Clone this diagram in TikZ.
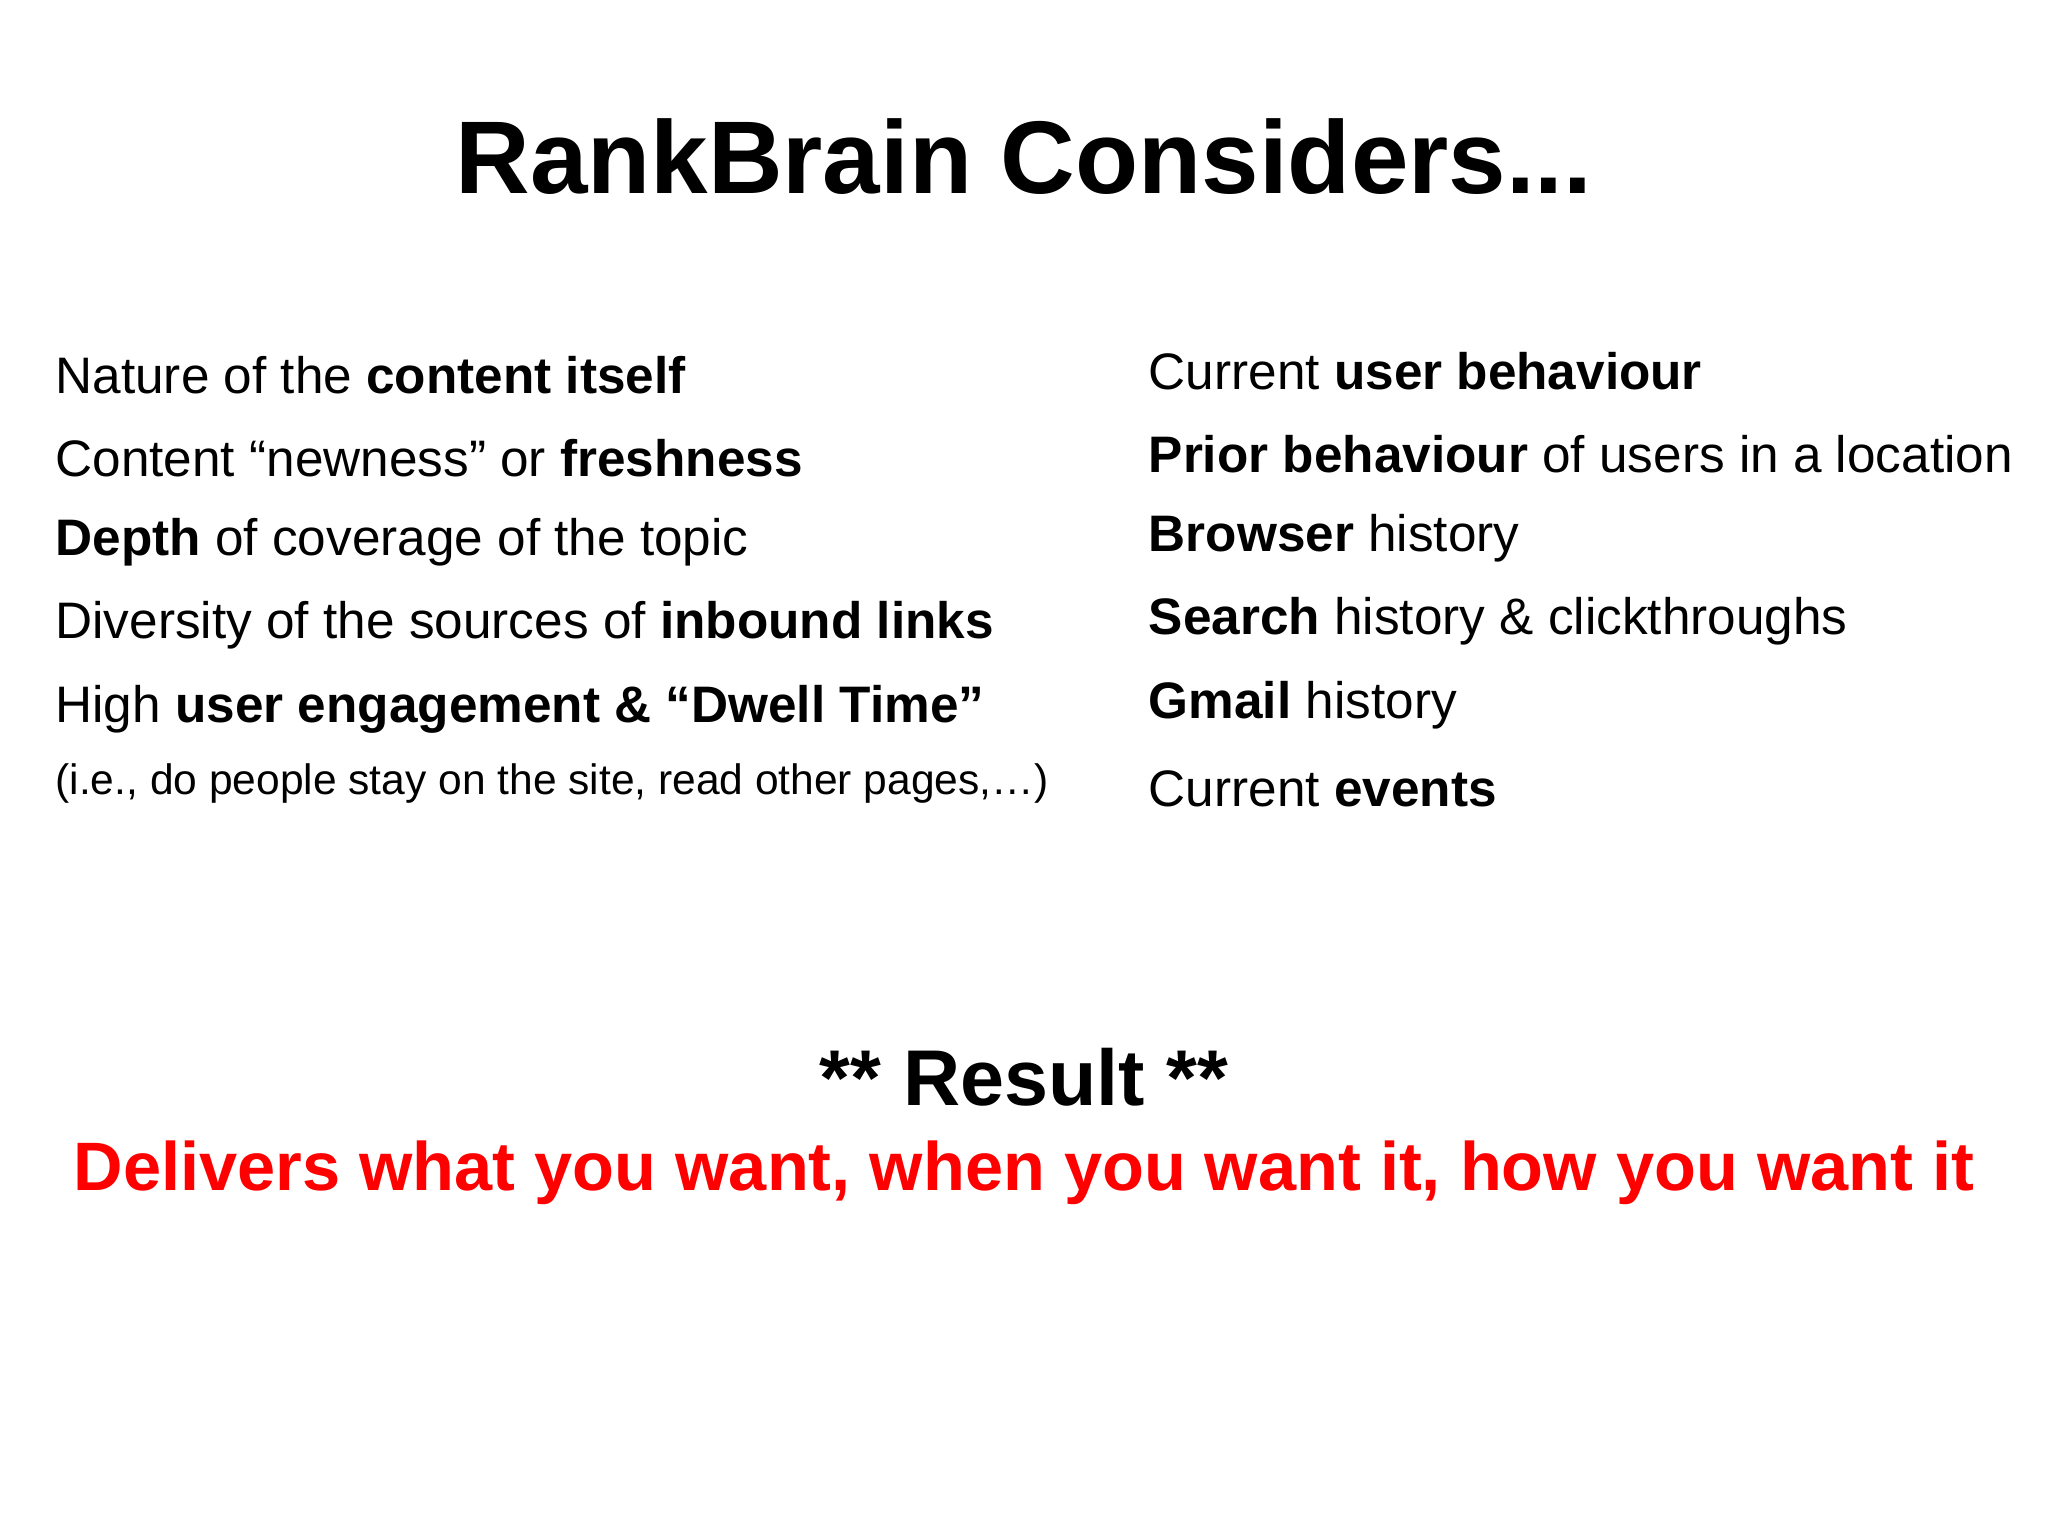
\documentclass[tikz,border=0pt]{standalone}
\usepackage{fontspec}
\setmainfont{Liberation Sans}
\begin{document}
\begin{tikzpicture}[x=0.01306cm,y=-0.01306cm,
  item/.style={anchor=west,inner sep=0pt,font=\fontsize{14.6}{18}\selectfont},
  small/.style={anchor=west,inner sep=0pt,font=\fontsize{12.1}{15}\selectfont}]
\useasboundingbox (0,0) rectangle (1568,1176);
\node[inner sep=0pt,font=\fontsize{29.4}{36}\selectfont\bfseries] (title) at (784,120) {RankBrain Considers...};
\node[item] (l1) at (42,287) {Nature of the \textbf{content itself}};
\node[item] (l2) at (42,351) {Content “newness” or \textbf{freshness}};
\node[item] (l3) at (42,415) {\textbf{Depth} of coverage of the topic};
\node[item] (l4) at (42,479) {Diversity of the sources of \textbf{inbound links}};
\node[item] (l5) at (42,543) {High \textbf{user engagement \& “Dwell Time”}};
\node[small] (l6) at (42,600) {(i.e., do people stay on the site, read other pages,…)};
\node[item] (r1) at (879,284) {Current \textbf{user behaviour}};
\node[item] (r2) at (879,348) {\textbf{Prior behaviour} of users in a location};
\node[item] (r3) at (879,412) {\textbf{Browser} history};
\node[item] (r4) at (879,476) {\textbf{Search} history \& clickthroughs};
\node[item] (r5) at (879,540) {\textbf{Gmail} history};
\node[item] (r6) at (879,604) {Current \textbf{events}};
\node[inner sep=0pt,font=\fontsize{22.5}{28}\selectfont\bfseries] (res) at (784,825) {** Result **};
\node[inner sep=0pt,text=red,font=\fontsize{19.5}{24}\selectfont\bfseries] (del) at (784,898) {Delivers what you want, when you want it, how you want it};
\end{tikzpicture}
\end{document}
